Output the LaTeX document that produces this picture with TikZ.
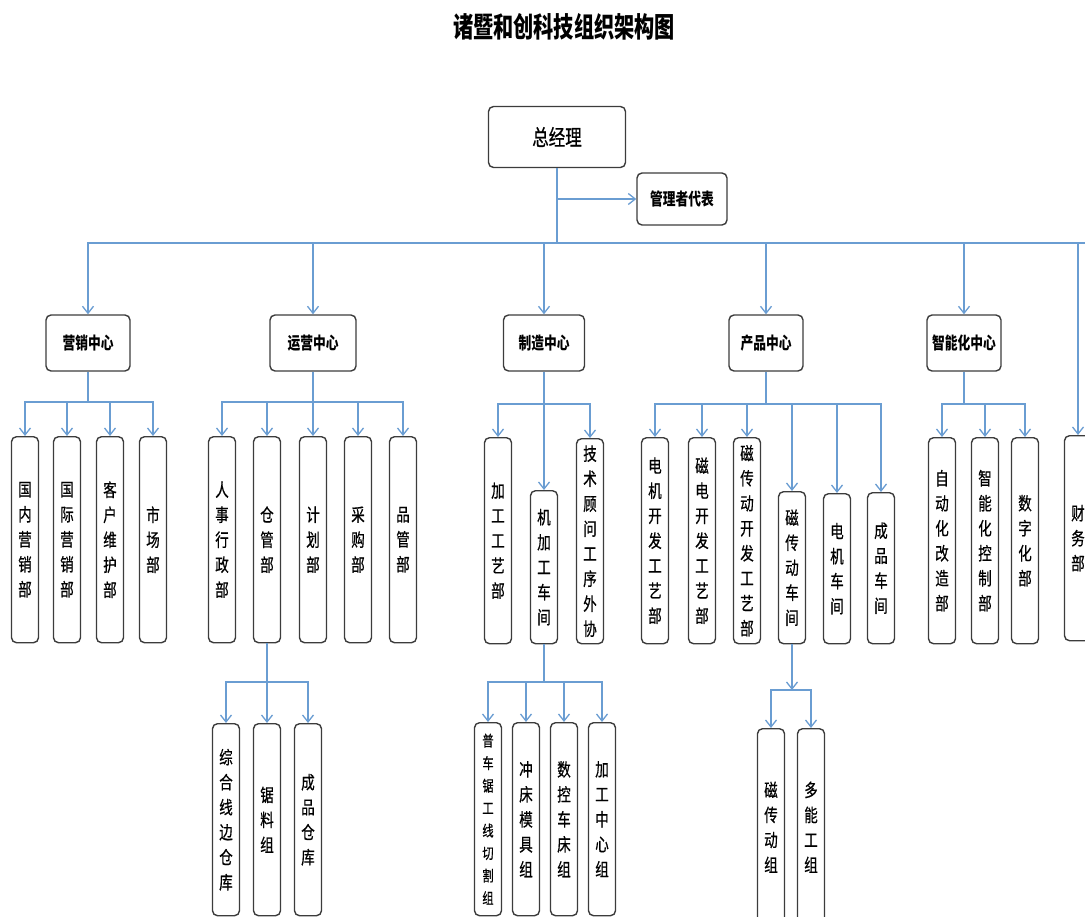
\documentclass[tikz,border=0pt]{standalone}
\usepackage{fontspec}
\usetikzlibrary{arrows.meta}
\newfontfamily\cjkc[FakeStretch=0.75]{Noto Sans CJK SC}
\newfontfamily\cjkv[FakeStretch=0.75,FakeBold=0.6]{Noto Sans CJK SC}
\newfontfamily\cjkt[FakeStretch=0.72]{Noto Sans CJK SC}
\definecolor{lineblue}{RGB}{106,157,210}
\definecolor{boxgray}{RGB}{60,60,60}
\newcommand\vtext{\cjkv\fontsize{18}{25}\selectfont}
\newcommand\vsmall{\cjkv\fontsize{15}{22.5}\selectfont}
\begin{document}
\begin{tikzpicture}[x=1pt,y=-1pt]
\clip (0,0) rectangle (1085,917);
\tikzset{
  line/.style={draw=lineblue, line width=1.3pt},
  arr/.style={line, -{Straight Barb[length=7pt,width=11pt]}},
  box/.style={draw=boxgray, line width=1.4pt, rounded corners=5pt, fill=white, inner sep=0pt, align=center},
  vbox/.style={box, minimum width=27pt, anchor=north, font=\vtext},
  cbox/.style={box, minimum height=56pt, font=\cjkc\bfseries\fontsize{17}{20}\selectfont},
}
% title
\node[font=\cjkt\bfseries\fontsize{28}{32}\selectfont] (title) at (564,27) {诸暨和创科技组织架构图};
% top
\node[box, minimum width=137pt, minimum height=61pt, font=\cjkv\fontsize{22}{24}\selectfont] (gm) at (557,137) {总经理};
\node[box, minimum width=90pt, minimum height=52pt, font=\cjkc\bfseries\fontsize{17}{20}\selectfont] (rep) at (682,199) {管理者代表};
% centres
\node[cbox, minimum width=84pt] (yx) at (88,343) {营销中心};
\node[cbox, minimum width=86pt] (yy) at (313,343) {运营中心};
\node[cbox, minimum width=81pt] (zz) at (544,343) {制造中心};
\node[cbox, minimum width=74pt] (cp) at (766,343) {产品中心};
\node[cbox, minimum width=74pt] (zn) at (964,343) {智能化中心};
% 营销
\node[vbox, minimum height=206pt] (n11) at (25,436) {国\\内\\营\\销\\部};
\node[vbox, minimum height=206pt] (n12) at (67,436) {国\\际\\营\\销\\部};
\node[vbox, minimum height=206pt] (n13) at (110,436) {客\\户\\维\\护\\部};
\node[vbox, minimum height=206pt] (n14) at (153,436) {市\\场\\部};
% 运营
\node[vbox, minimum height=206pt] (n21) at (222,436) {人\\事\\行\\政\\部};
\node[vbox, minimum height=206pt] (n22) at (267,436) {仓\\管\\部};
\node[vbox, minimum height=206pt] (n23) at (313,436) {计\\划\\部};
\node[vbox, minimum height=206pt] (n24) at (358,436) {采\\购\\部};
\node[vbox, minimum height=206pt] (n25) at (403,436) {品\\管\\部};
% 制造
\node[vbox, minimum height=206pt] (n31) at (498,437) {加\\工\\工\\艺\\部};
\node[vbox, minimum height=153pt] (n32) at (544,490) {机\\加\\工\\车\\间};
\node[vbox, minimum height=205pt] (n33) at (590,438) {技\\术\\顾\\问\\工\\序\\外\\协};
% 产品
\node[vbox, minimum height=206pt] (n41) at (655,437) {电\\机\\开\\发\\工\\艺\\部};
\node[vbox, minimum height=206pt] (n42) at (702,437) {磁\\电\\开\\发\\工\\艺\\部};
\node[vbox, minimum height=206pt] (n43) at (747,437) {磁\\传\\动\\开\\发\\工\\艺\\部};
\node[vbox, minimum height=152pt] (n44) at (792,491) {磁\\传\\动\\车\\间};
\node[vbox, minimum height=150pt] (n45) at (837,493) {电\\机\\车\\间};
\node[vbox, minimum height=151pt] (n46) at (881,492) {成\\品\\车\\间};
% 智能化
\node[vbox, minimum height=206pt] (n51) at (942,437) {自\\动\\化\\改\\造\\部};
\node[vbox, minimum height=206pt] (n52) at (985,437) {智\\能\\化\\控\\制\\部};
\node[vbox, minimum height=206pt] (n53) at (1025,437) {数\\字\\化\\部};
% 财务
\node[vbox, minimum height=205pt] (n6) at (1078,435) {财\\务\\部};
% 仓管 sub
\node[vbox, minimum height=192pt] (m1) at (226,723) {综\\合\\线\\边\\仓\\库};
\node[vbox, minimum height=192pt] (m2) at (267,723) {锯\\料\\组};
\node[vbox, minimum height=192pt] (m3) at (308,723) {成\\品\\仓\\库};
% 机加工 sub
\node[vbox, minimum height=193pt, font=\vsmall] (k1) at (488,722) {普\\车\\锯\\工\\线\\切\\割\\组};
\node[vbox, minimum height=193pt] (k2) at (526,722) {冲\\床\\模\\具\\组};
\node[vbox, minimum height=193pt] (k3) at (564,722) {数\\控\\车\\床\\组};
\node[vbox, minimum height=193pt] (k4) at (602,722) {加\\工\\中\\心\\组};
% 磁传动 sub
\node[vbox, minimum height=197pt] (c1) at (771,728) {磁\\传\\动\\组};
\node[vbox, minimum height=197pt] (c2) at (811,728) {多\\能\\工\\组};
% junctions
\coordinate (b0) at (gm.south |- 0,243);
\coordinate (bend) at (1085,243);
\coordinate (rj) at (gm.south |- 0,199);
\coordinate (b1) at (yx.south |- 0,402);
\coordinate (b2) at (yy.south |- 0,402);
\coordinate (b3) at (zz.south |- 0,404);
\coordinate (b4) at (cp.south |- 0,404);
\coordinate (b5) at (zn.south |- 0,404);
\coordinate (bm) at (n22.south |- 0,682);
\coordinate (bk) at (n32.south |- 0,682);
\coordinate (bc) at (n44.south |- 0,690);
% connectors
\draw[line] (gm.south) -- (b0);
\draw[line] (b0) -- (bend);
\draw[arr] (rj) -- (rep.west);
\foreach \c in {yx,yy,zz,cp,zn,n6} \draw[arr] (b0) -| (\c.north);
\draw[line] (yx.south) -- (b1);
\foreach \c in {n11,n12,n13,n14} \draw[arr] (b1) -| (\c.north);
\draw[line] (yy.south) -- (b2);
\foreach \c in {n21,n22,n23,n24,n25} \draw[arr] (b2) -| (\c.north);
\draw[line] (zz.south) -- (b3);
\foreach \c in {n31,n32,n33} \draw[arr] (b3) -| (\c.north);
\draw[line] (cp.south) -- (b4);
\foreach \c in {n41,n42,n43,n44,n45,n46} \draw[arr] (b4) -| (\c.north);
\draw[line] (zn.south) -- (b5);
\foreach \c in {n51,n52,n53} \draw[arr] (b5) -| (\c.north);
\draw[line] (n22.south) -- (bm);
\foreach \c in {m1,m2,m3} \draw[arr] (bm) -| (\c.north);
\draw[line] (n32.south) -- (bk);
\foreach \c in {k1,k2,k3,k4} \draw[arr] (bk) -| (\c.north);
\draw[arr] (n44.south) -- (bc);
\foreach \c in {c1,c2} \draw[arr] (bc) -| (\c.north);
\end{tikzpicture}
\end{document}
